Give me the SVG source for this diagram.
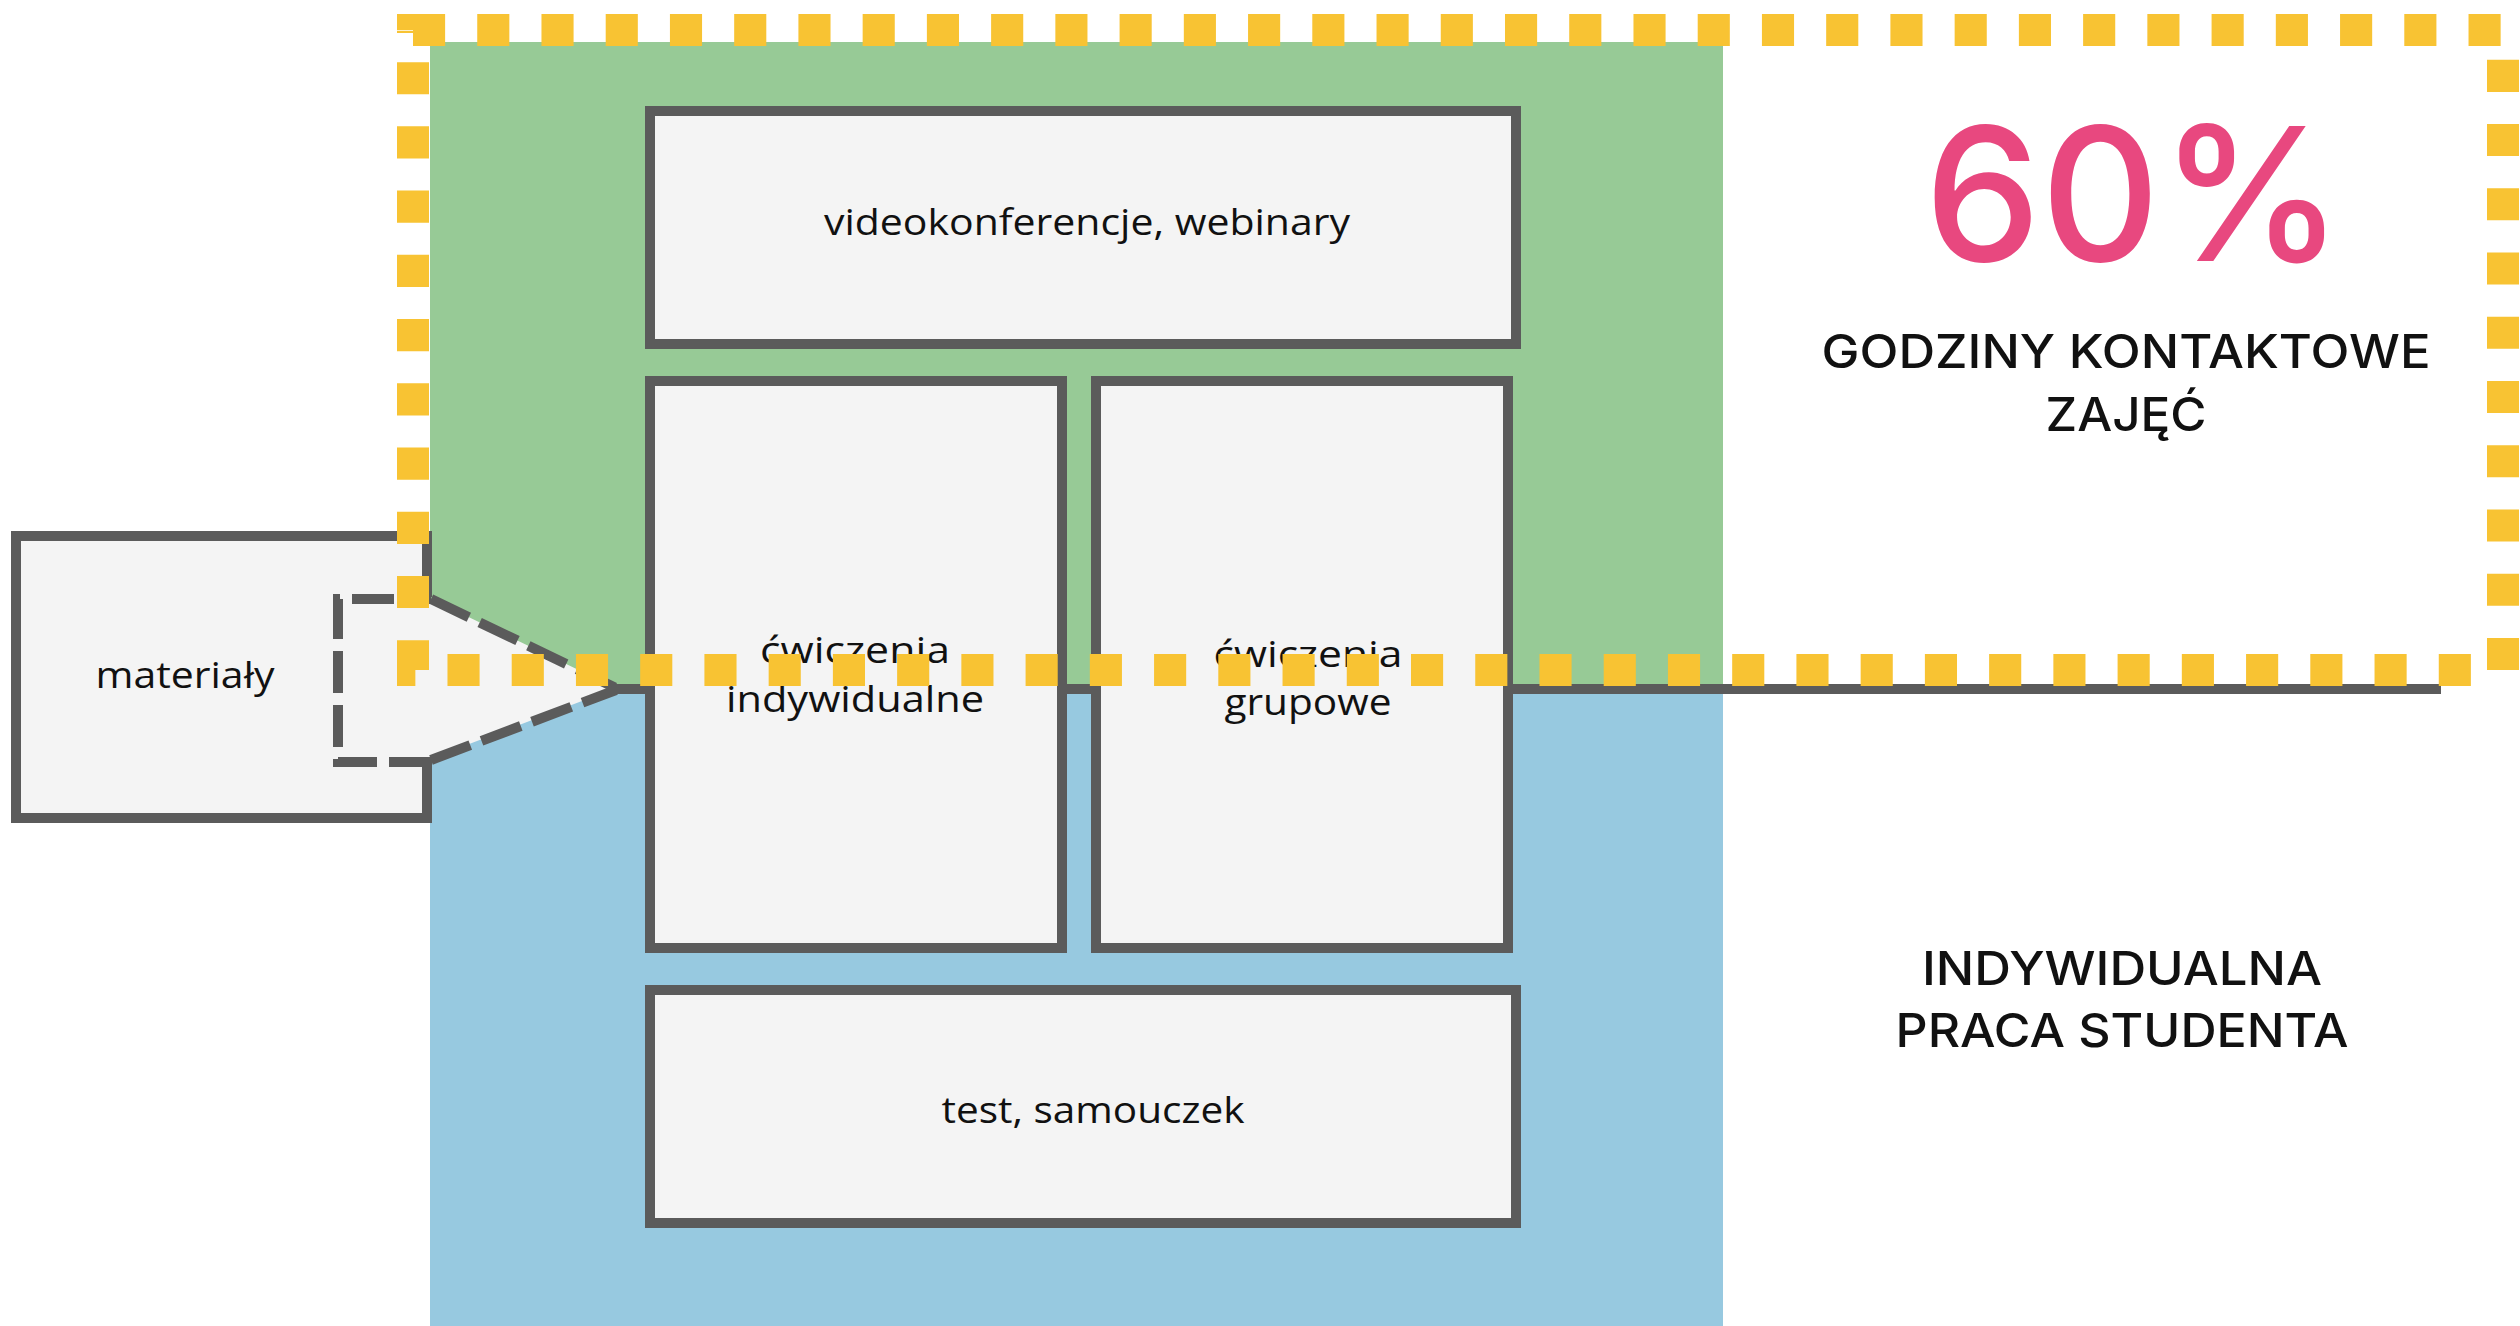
<svg xmlns="http://www.w3.org/2000/svg" width="2520" height="1326" viewBox="0 0 2520 1326">
<style>
.box{fill:#f4f4f4;stroke:#5b5b5b;stroke-width:10}
.solid{fill:none;stroke:#5b5b5b;stroke-width:10}
.dash{fill:none;stroke:#5b5b5b;stroke-width:10;stroke-dasharray:42 12}
.lbl{font-family:"Open Sans","Liberation Sans",sans-serif;font-size:37px;fill:#111;text-anchor:middle}
.cap{font-family:Inter,"Open Sans",sans-serif;font-size:47px;font-weight:500;fill:#111;text-anchor:middle}
.big{font-family:Inter,"Open Sans",sans-serif;font-size:186px;font-weight:500;fill:#e8487f;text-anchor:middle}
</style>
<rect width="2520" height="1326" fill="#ffffff"/>
<g id="zones">
<rect x="430" y="42" width="1293" height="647" fill="#97ca96"/>
<rect x="430" y="689" width="1293" height="637" fill="#97c9e0"/>
</g>
<g id="materialy">
<polygon points="16,536 427,536 427,597 616,688 427,760 427,818 16,818" fill="#f4f4f4"/>
<path class="solid" d="M427,597 V536 H16 V818 H427 V760"/>
<path class="dash" d="M431,599 L616,688"/>
<path class="dash" d="M431,760 L616,690"/>
<path class="dash" d="M431,762 H338 V599 H431"/>
<text class="lbl" x="185" y="688" textLength="179" lengthAdjust="spacingAndGlyphs">materiały</text>
</g>
<g id="connectors">
<line x1="612" y1="689" x2="2441" y2="689" stroke="#5b5b5b" stroke-width="10"/>
</g>
<g id="videokonferencje">
<rect class="box" x="650" y="111" width="866" height="233"/>
<text class="lbl" x="1087" y="235" textLength="526" lengthAdjust="spacingAndGlyphs">videokonferencje, webinary</text>
</g>
<g id="cwiczenia-indywidualne">
<rect class="box" x="650" y="381" width="412" height="567"/>
<text class="lbl" x="855" y="663" textLength="190" lengthAdjust="spacingAndGlyphs">ćwiczenia</text>
<text class="lbl" x="855" y="712" textLength="258" lengthAdjust="spacingAndGlyphs">indywidualne</text>
</g>
<g id="cwiczenia-grupowe">
<rect class="box" x="1096" y="381" width="412" height="567"/>
<text class="lbl" x="1308" y="667" textLength="189" lengthAdjust="spacingAndGlyphs">ćwiczenia</text>
<text class="lbl" x="1308" y="715" textLength="167" lengthAdjust="spacingAndGlyphs">grupowe</text>
</g>
<g id="test-samouczek">
<rect class="box" x="650" y="990" width="866" height="233"/>
<text class="lbl" x="1093" y="1123" textLength="303" lengthAdjust="spacingAndGlyphs">test, samouczek</text>
</g>
<g id="contact-label">
<text class="big" x="2134" y="261" textLength="419" lengthAdjust="spacingAndGlyphs">60%</text>
<text class="cap" x="2126" y="368" textLength="609" lengthAdjust="spacingAndGlyphs">GODZINY KONTAKTOWE</text>
<text class="cap" x="2126" y="431" textLength="161" lengthAdjust="spacingAndGlyphs">ZAJĘĆ</text>
</g>
<g id="individual-label">
<text class="cap" x="2122" y="985" textLength="400" lengthAdjust="spacingAndGlyphs">INDYWIDUALNA</text>
<text class="cap" x="2122" y="1047" textLength="453" lengthAdjust="spacingAndGlyphs">PRACA STUDENTA</text>
</g>
<g id="contact-frame">
<rect x="413" y="30" width="2090" height="640" fill="none" stroke="#f8c333" stroke-width="32" stroke-dasharray="32.1176 32.1176"/>
<line x1="397" y1="32" x2="413" y2="32" stroke="#f8c333" stroke-width="2"/>
</g>
</svg>
